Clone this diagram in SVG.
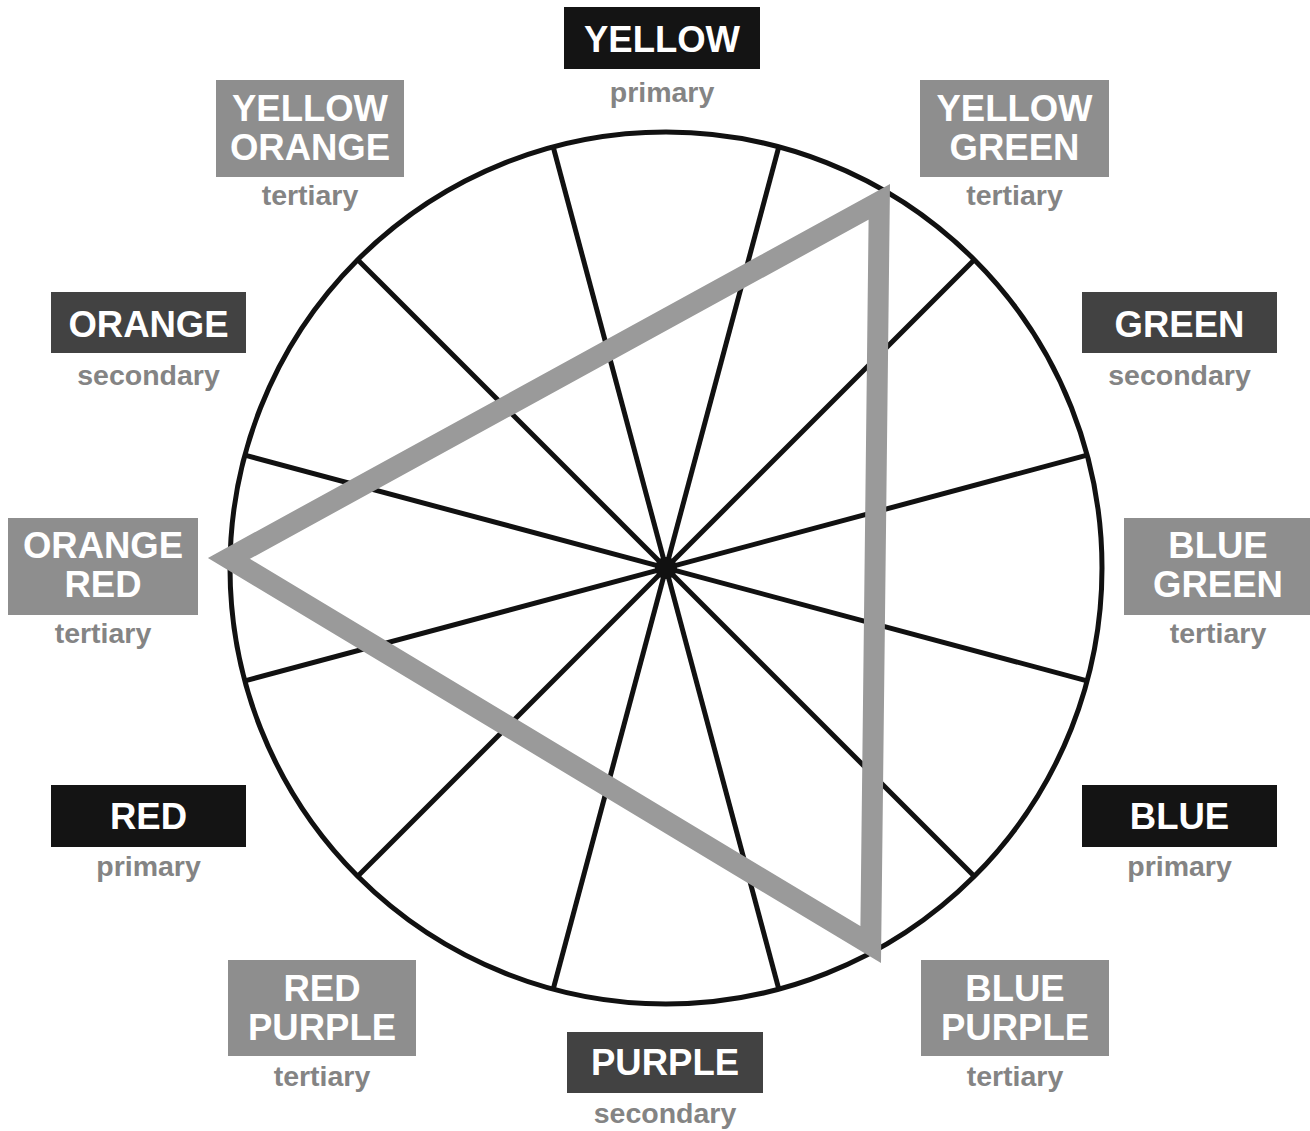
<svg xmlns="http://www.w3.org/2000/svg" width="1310" height="1131" viewBox="0 0 1310 1131">
<style>
.lbl{font-family:"Liberation Sans",Arial,sans-serif;font-weight:bold;font-size:36.5px;fill:#ffffff;text-anchor:middle}
.sub{font-family:"Liberation Sans",Arial,sans-serif;font-weight:bold;font-size:28.5px;fill:#848484;text-anchor:middle}
.pri{fill:#141414}
.sec{fill:#424242}
.ter{fill:#8e8e8e}
.spoke{stroke:#111;stroke-width:5;fill:none}
</style>
<rect width="1310" height="1131" fill="#fff"/>
<g id="wheel">
<circle cx="666" cy="568" r="436" fill="none" stroke="#111" stroke-width="5"/>
</g>
<g id="connectors">
<line class="spoke" x1="778.8" y1="146.9" x2="553.2" y2="989.1"/>
<line class="spoke" x1="553.2" y1="146.9" x2="778.8" y2="989.1"/>
<line class="spoke" x1="974.3" y1="259.7" x2="357.7" y2="876.3"/>
<line class="spoke" x1="357.7" y1="259.7" x2="974.3" y2="876.3"/>
<line class="spoke" x1="1087.1" y1="455.2" x2="244.9" y2="680.8"/>
<line class="spoke" x1="244.9" y1="455.2" x2="1087.1" y2="680.8"/>
<circle cx="666" cy="568" r="11" fill="#111"/>
<polygon points="879.3,201.9 229,558.4 870.7,944.6" fill="none" stroke="#9a9a9a" stroke-width="21" stroke-linejoin="miter" stroke-miterlimit="4"/>
</g>
<g id="yellow">
<rect class="pri" x="564" y="7" width="196" height="62"/>
<text class="lbl" x="662" y="52">YELLOW</text>
<text class="sub" x="662" y="102">primary</text>
</g>
<g id="yellow-orange">
<rect class="ter" x="216" y="80" width="188" height="97"/>
<text class="lbl" x="310" y="121">YELLOW</text>
<text class="lbl" x="310" y="160">ORANGE</text>
<text class="sub" x="310" y="205">tertiary</text>
</g>
<g id="yellow-green">
<rect class="ter" x="920" y="80" width="189" height="97"/>
<text class="lbl" x="1014.5" y="121">YELLOW</text>
<text class="lbl" x="1014.5" y="160">GREEN</text>
<text class="sub" x="1014.5" y="205">tertiary</text>
</g>
<g id="orange">
<rect class="sec" x="51" y="292" width="195" height="61"/>
<text class="lbl" x="148.5" y="337">ORANGE</text>
<text class="sub" x="148.5" y="385">secondary</text>
</g>
<g id="green">
<rect class="sec" x="1082" y="292" width="195" height="61"/>
<text class="lbl" x="1179.5" y="337">GREEN</text>
<text class="sub" x="1179.5" y="385">secondary</text>
</g>
<g id="orange-red">
<rect class="ter" x="8" y="518" width="190" height="97"/>
<text class="lbl" x="103" y="558">ORANGE</text>
<text class="lbl" x="103" y="597">RED</text>
<text class="sub" x="103" y="643">tertiary</text>
</g>
<g id="blue-green">
<rect class="ter" x="1124" y="518" width="186" height="97"/>
<text class="lbl" x="1218" y="558">BLUE</text>
<text class="lbl" x="1218" y="597">GREEN</text>
<text class="sub" x="1218" y="643">tertiary</text>
</g>
<g id="red">
<rect class="pri" x="51" y="785" width="195" height="62"/>
<text class="lbl" x="148.5" y="829">RED</text>
<text class="sub" x="148.5" y="876">primary</text>
</g>
<g id="blue">
<rect class="pri" x="1082" y="785" width="195" height="62"/>
<text class="lbl" x="1179.5" y="829">BLUE</text>
<text class="sub" x="1179.5" y="876">primary</text>
</g>
<g id="red-purple">
<rect class="ter" x="228" y="960" width="188" height="96"/>
<text class="lbl" x="322" y="1001">RED</text>
<text class="lbl" x="322" y="1040">PURPLE</text>
<text class="sub" x="322" y="1086">tertiary</text>
</g>
<g id="blue-purple">
<rect class="ter" x="921" y="960" width="188" height="96"/>
<text class="lbl" x="1015" y="1001">BLUE</text>
<text class="lbl" x="1015" y="1040">PURPLE</text>
<text class="sub" x="1015" y="1086">tertiary</text>
</g>
<g id="purple">
<rect class="sec" x="567" y="1032" width="196" height="61"/>
<text class="lbl" x="665" y="1075">PURPLE</text>
<text class="sub" x="665" y="1123">secondary</text>
</g>
</svg>
